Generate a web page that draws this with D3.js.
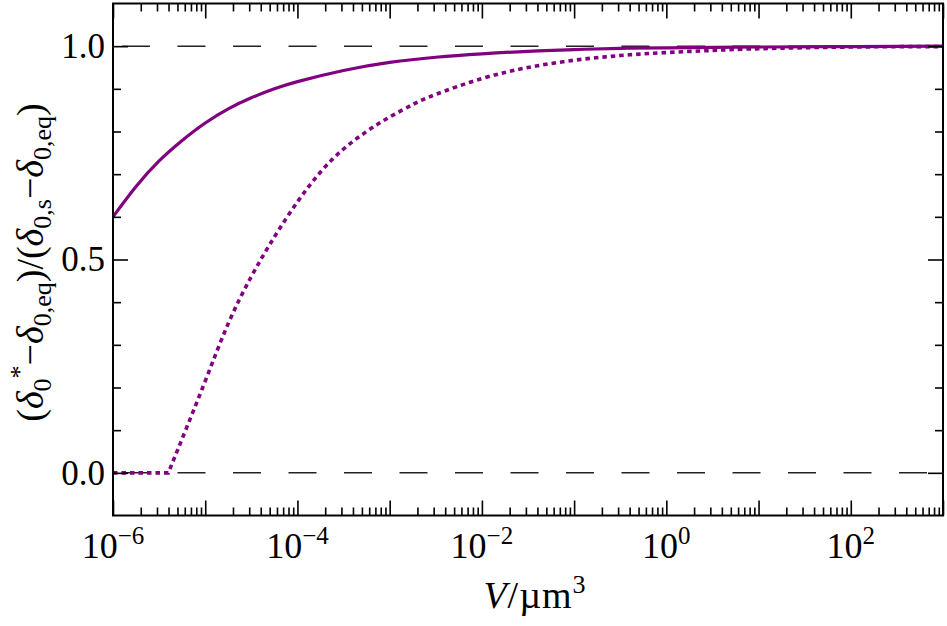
<!DOCTYPE html>
<html>
<head>
    <meta charset="utf-8">
    <title>Relaxation vs volume</title>
    <script src="https://d3js.org/d3.v7.min.js"></script>
    <style>
        html, body {
            margin: 0;
            background: white;
        }
    </style>
</head>
<body>
    <svg id="svg"></svg>
    <script>
        // values (V given as log10 of µm^3)
        const solidLogV = [-6, -5.75, -5.5, -5.25, -5, -4.75, -4.5, -4.25, -4, -3.5, -3, -2.5, -2, -1.5, -1, -0.5, 0, 1, 2, 3];
        const solidY = [0.600, 0.671, 0.731, 0.779, 0.820, 0.853, 0.879, 0.900, 0.917, 0.943, 0.962, 0.974, 0.982, 0.988, 0.992, 0.995, 0.996, 0.998, 0.999, 1.0];

        const dottedLogV = [-6, -5.40, -5.25, -5, -4.75, -4.5, -4.25, -4, -3.75, -3.5, -3.25, -3, -2.75, -2.5, -2, -1.5, -1, -0.5, 0, 0.5, 1, 2, 3];
        const dottedY = [0, 0, 0.080, 0.215, 0.350, 0.460, 0.553, 0.635, 0.705, 0.759, 0.800, 0.834, 0.863, 0.887, 0.924, 0.950, 0.967, 0.978, 0.985, 0.990, 0.994, 0.998, 0.999];

        const refLines = [0, 1];
        const xLabelExps = [-6, -4, -2, 0, 2];
        const yMajor = [0, 0.5, 1.0];
        const yMinor = [0.1, 0.2, 0.3, 0.4, 0.6, 0.7, 0.8, 0.9];

        const width = 947, height = 626;
        const margins = { top: 3.5, left: 113, right: 4, bottom: 110.5 };
        const plotW = width - margins.left - margins.right;
        const plotH = height - margins.top - margins.bottom;
        const purple = "#800080";
        const serif = "Liberation Serif, serif";

        const svg = d3.select("#svg")
            .attr("width", width)
            .attr("height", height)
            .attr("font-family", serif);

        const x = d3.scaleLog()
            .domain([1e-6, 1e3])
            .range([margins.left, margins.left + plotW]);

        const y = d3.scaleLinear()
            .domain([-0.1, 1.1])
            .range([margins.top + plotH, margins.top]);

        const decades = d3.range(-6, 4).map(e => Math.pow(10, e));
        const minorX = [];
        d3.range(-6, 3).forEach(e => {
            for (let k = 2; k <= 9; k++) minorX.push(k * Math.pow(10, e));
        });

        svg.append("clipPath").attr("id", "clip")
            .append("rect")
            .attr("x", margins.left).attr("y", margins.top)
            .attr("width", plotW).attr("height", plotH);

        // dashed reference lines
        svg.append("g").selectAll("line")
            .data(refLines)
            .join("line")
            .attr("x1", x.range()[0]).attr("x2", x.range()[1])
            .attr("y1", d => y(d)).attr("y2", d => y(d))
            .attr("stroke", "#222")
            .attr("stroke-width", 1.5)
            .attr("stroke-dasharray", "28 27.5")
            .attr("stroke-dashoffset", 46.5);

        // curves
        const curves = svg.append("g").attr("clip-path", "url(#clip)");

        const solidData = solidLogV.map((e, i) => [Math.pow(10, e), solidY[i]]);
        const dottedData = dottedLogV.map((e, i) => [Math.pow(10, e), dottedY[i]]);

        const line = d3.line()
            .curve(d3.curveNatural)
            .x(d => x(d[0]))
            .y(d => y(d[1]));

        curves.append("path")
            .attr("d", line(solidData))
            .attr("fill", "none")
            .attr("stroke", purple)
            .attr("stroke-width", 3.2);

        // flat part joined by a sharp corner, then the smooth rise
        const rise = dottedData.slice(1);
        const dDotted = `M${x(dottedData[0][0])},${y(dottedData[0][1])}L` + line(rise).slice(1);
        curves.append("path")
            .attr("d", dDotted)
            .attr("fill", "none")
            .attr("stroke", purple)
            .attr("stroke-width", 3.6)
            .attr("stroke-dasharray", "4.5 4");

        // ticks on all four sides, pointing inwards
        function tickGroup(axis, transform) {
            const g = svg.append("g").attr("transform", transform).call(axis);
            g.select(".domain").remove();
            g.selectAll("text").remove();
            g.selectAll("line").attr("stroke", "black").attr("stroke-width", 1.6);
            return g;
        }

        const bottomY = margins.top + plotH;
        const rightX = margins.left + plotW;

        tickGroup(d3.axisBottom(x).tickValues(decades).tickSize(-15), `translate(0,${bottomY})`);
        tickGroup(d3.axisBottom(x).tickValues(minorX).tickSize(-8), `translate(0,${bottomY})`);
        tickGroup(d3.axisTop(x).tickValues(decades).tickSize(-15), `translate(0,${margins.top})`);
        tickGroup(d3.axisTop(x).tickValues(minorX).tickSize(-8), `translate(0,${margins.top})`);
        tickGroup(d3.axisLeft(y).tickValues(yMajor).tickSize(-15), `translate(${margins.left},0)`);
        tickGroup(d3.axisLeft(y).tickValues(yMinor).tickSize(-8), `translate(${margins.left},0)`);
        tickGroup(d3.axisRight(y).tickValues(yMajor).tickSize(-15), `translate(${rightX},0)`);
        tickGroup(d3.axisRight(y).tickValues(yMinor).tickSize(-8), `translate(${rightX},0)`);

        // frame
        svg.append("rect")
            .attr("x", margins.left).attr("y", margins.top)
            .attr("width", plotW).attr("height", plotH)
            .attr("fill", "none")
            .attr("stroke", "black")
            .attr("stroke-width", 2);

        // y tick labels
        svg.append("g").selectAll("text")
            .data(yMajor)
            .join("text")
            .attr("font-family", serif)
            .attr("font-size", 35)
            .attr("x", margins.left - 8)
            .attr("y", d => y(d))
            .attr("dy", "0.34em")
            .attr("text-anchor", "end")
            .text(d => d.toFixed(1));

        // x tick labels 10^n
        const xl = svg.append("g").selectAll("text")
            .data(xLabelExps)
            .join("text")
            .attr("font-family", serif)
            .attr("font-size", 36)
            .attr("x", d => x(Math.pow(10, d)))
            .attr("y", 558)
            .attr("text-anchor", "middle");
        xl.append("tspan").text("10");
        xl.append("tspan")
            .attr("dy", -14)
            .attr("font-size", 25)
            .text(d => (d < 0 ? "\u2212" : "") + Math.abs(d));

        // rich text helper: parts of [text, kind, italic]
        function richText(sel, parts, size, subSize) {
            let offset = 0;
            parts.forEach(([t, kind, italic]) => {
                const target = kind === "sub" ? 8 : kind === "sup" ? -15 : 0;
                const ts = sel.append("tspan")
                    .attr("dy", target - offset)
                    .attr("font-size", kind ? subSize : size)
                    .text(t);
                if (italic) ts.attr("font-style", "italic");
                offset = target;
            });
        }

        // x axis label
        const xLab = svg.append("text")
            .attr("font-family", serif)
            .attr("x", margins.left + plotW / 2 + 7)
            .attr("y", 608)
            .attr("text-anchor", "middle")
            .attr("letter-spacing", 1);
        richText(xLab, [["V", null, true], ["/\u00b5m", null, false], ["3", "sup", false]], 38, 26);

        // y axis label
        const yLab = svg.append("text")
            .attr("font-family", serif)
            .attr("transform", `translate(43,${margins.top + plotH / 2 + 3}) rotate(-90)`)
            .attr("text-anchor", "middle");
        richText(yLab, [
            ["(", null, false], ["\u03b4", null, true], ["0", "sub", false], ["*", "sup", false],
            ["\u2212", null, false], ["\u03b4", null, true], ["0,eq", "sub", false],
            [")/(", null, false], ["\u03b4", null, true], ["0,s", "sub", false],
            ["\u2212", null, false], ["\u03b4", null, true], ["0,eq", "sub", false],
            [")", null, false]
        ], 38, 26);
    </script>
</body>
</html>
